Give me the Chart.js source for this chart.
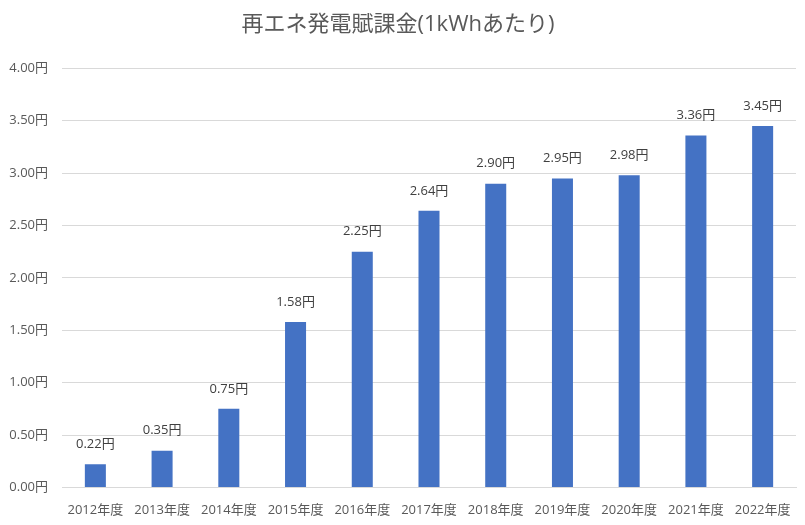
<!DOCTYPE html>
<html lang="ja">
<head>
<meta charset="utf-8">
<title>再エネ発電賦課金</title>
<script src="https://cdn.jsdelivr.net/npm/chart.js@4.4.1/dist/chart.umd.min.js"></script>
<style>
  html, body { margin: 0; padding: 0; background: #fff; }
  .wrap { width: 805px; height: 525px; position: relative; }
</style>
</head>
<body>
<div class="wrap"><canvas id="chart"></canvas></div>
<script>
// chart data
const years = ['2012年度', '2013年度', '2014年度', '2015年度', '2016年度', '2017年度',
  '2018年度', '2019年度', '2020年度', '2021年度', '2022年度'];
const levy = [0.22, 0.35, 0.75, 1.58, 2.25, 2.64, 2.90, 2.95, 2.98, 3.36, 3.45];
const yMin = 0;
const yMax = 4;
const yStep = 0.5;

const FONT = '"Open Sans", "Noto Sans CJK JP", sans-serif';

// draw value labels above each bar
const barLabels = {
  id: 'barLabels',
  afterDatasetsDraw(chart) {
    const ctx = chart.ctx;
    const meta = chart.getDatasetMeta(0);
    ctx.save();
    ctx.font = '13px ' + FONT;
    ctx.fillStyle = '#404040';
    ctx.textAlign = 'center';
    ctx.textBaseline = 'middle';
    meta.data.forEach((bar, i) => {
      ctx.fillText(levy[i].toFixed(2) + '円', bar.x, bar.y - 20);
    });
    ctx.restore();
  }
};

new Chart(document.getElementById('chart'), {
  type: 'bar',
  data: {
    labels: years,
    datasets: [{
      data: levy,
      backgroundColor: '#4472C4',
      categoryPercentage: 1,
      barPercentage: 0.315
    }]
  },
  options: {
    responsive: true,
    maintainAspectRatio: false,
    animation: false,
    layout: { padding: { left: 0, right: 9, top: 0, bottom: 0 } },
    plugins: {
      legend: { display: false },
      tooltip: { enabled: false },
      title: {
        display: true,
        text: '再エネ発電賦課金(1kWhあたり)',
        color: '#595959',
        font: { family: FONT, size: 22, weight: 'normal' },
        padding: { top: 12, bottom: 30 }
      }
    },
    scales: {
      x: {
        grid: { display: false },
        border: { color: '#d9d9d9' },
        ticks: {
          color: '#595959',
          font: { family: FONT, size: 13 },
          maxRotation: 0,
          autoSkip: false,
          padding: 7
        }
      },
      y: {
        min: yMin,
        max: yMax,
        afterFit(scale) { scale.width = 62; },
        grid: { color: '#d9d9d9', drawTicks: false },
        border: { display: false },
        ticks: {
          stepSize: yStep,
          color: '#595959',
          font: { family: FONT, size: 13 },
          padding: 14,
          callback: v => v.toFixed(2) + '円'
        }
      }
    }
  },
  plugins: [barLabels]
});
</script>
</body>
</html>
